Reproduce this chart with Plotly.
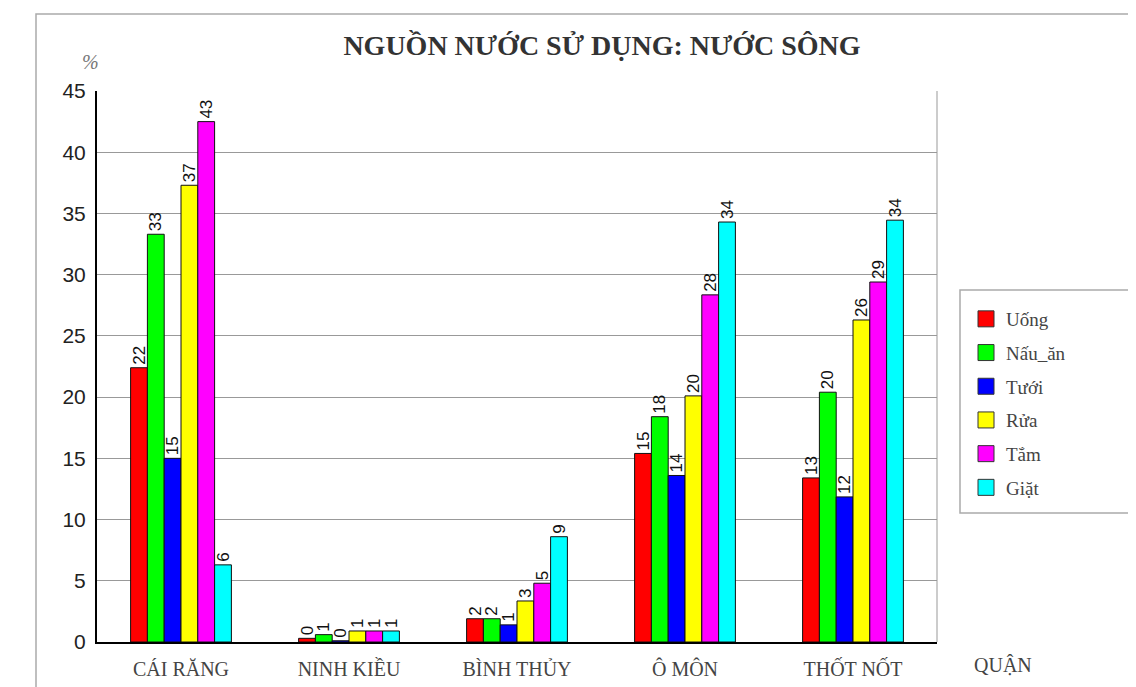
import plotly.graph_objects as go

categories = ["CÁI RĂNG", "NINH KIỀU", "BÌNH THỦY", "Ô MÔN", "THỐT NỐT"]
series_names = ["Uống", "Nấu_ăn", "Tưới", "Rửa", "Tắm", "Giặt"]
uong = [22.4, 0.3, 1.9, 15.4, 13.4]
nau_an = [33.3, 0.6, 1.9, 18.4, 20.4]
tuoi = [15.0, 0.1, 1.4, 13.6, 11.85]
rua = [37.3, 0.9, 3.35, 20.1, 26.3]
tam = [42.5, 0.9, 4.8, 28.35, 29.4]
giat = [6.3, 0.9, 8.6, 34.3, 34.45]
series_values = [uong, nau_an, tuoi, rua, tam, giat]
colors = ["#FF0000", "#00FF00", "#0000FF", "#FFFF00", "#FF00FF", "#00FFFF"]
y_ticks = [0, 5, 10, 15, 20, 25, 30, 35, 40, 45]

OFF = 8  # page offset of the figure inside the browser window
W, H = 1136, 687
# target plot area in screen pixels: x 97..937, y 91..642
L = 97 - OFF
T = 91 - OFF
R = W + OFF - 937
B = H + OFF - 642
pw, ph = 937 - 97, 642 - 91

SERIF = "Liberation Serif"

def px_x(p):
    return (p - 97) / pw

def px_y(p):
    return (642 - p) / ph

fig = go.Figure()
for i, (name, vals, col) in enumerate(zip(series_names, series_values, colors)):
    fig.add_trace(go.Bar(
        x=categories, y=vals, name=name, showlegend=False,
        marker=dict(color=col, line=dict(color="#111111", width=1)),
        texttemplate="%{y:.0f}", textposition="outside", textangle=-90,
        constraintext="none", cliponaxis=False,
        textfont=dict(family="Liberation Sans, Arial, sans-serif", size=17, color="#111111"),
    ))
    fig.add_trace(go.Scatter(
        x=[None], y=[None], mode="markers", name=name, legendgroup=name,
        marker=dict(symbol="square", size=16, color=col, line=dict(color="#333333", width=1)),
    ))

fig.update_layout(
    width=W, height=H,
    margin=dict(l=L, r=R, t=T, b=B),
    paper_bgcolor="white", plot_bgcolor="white",
    barmode="group", bargap=0.4, bargroupgap=0,
    title=dict(text="<b>NGUỒN NƯỚC SỬ DỤNG: NƯỚC SÔNG</b>",
               x=(602 - OFF) / W, xanchor="center", y=1 - (45 - OFF) / H, yanchor="middle",
               font=dict(family=SERIF, size=28, color="#333333")),
    legend=dict(x=px_x(966), y=px_y(300), xanchor="left", yanchor="top",
                borderwidth=0, bgcolor="rgba(0,0,0,0)",
                traceorder="grouped", tracegroupgap=6,
                font=dict(family=SERIF, size=19, color="#444444")),
    xaxis=dict(showline=True, linecolor="#000000", linewidth=2, ticks="",
               tickfont=dict(family=SERIF, size=20, color="#444444"),
               ticklabelstandoff=8, showgrid=False),
    yaxis=dict(range=[0, 45], tickvals=y_ticks, showline=True, linecolor="#000000", linewidth=2,
               showgrid=True, gridcolor="#999999", gridwidth=1, ticks="", zeroline=False,
               tickfont=dict(family="Liberation Sans, Arial, sans-serif", size=21, color="#222222"),
               ticklabelstandoff=5),
    shapes=[
        dict(type="rect", xref="paper", yref="paper", x0=px_x(36), y0=-1, x1=2, y1=px_y(14),
             line=dict(color="#aaaaaa", width=1.5), fillcolor="rgba(0,0,0,0)", layer="below"),
        dict(type="line", xref="paper", yref="paper", x0=1, y0=0, x1=1, y1=1,
             line=dict(color="#999999", width=1)),
        dict(type="rect", xref="paper", yref="paper", x0=px_x(960), y0=px_y(513), x1=px_x(1160), y1=px_y(290),
             line=dict(color="#aaaaaa", width=1.5), fillcolor="rgba(0,0,0,0)", layer="below"),
    ],
    annotations=[
        dict(text="<i>%</i>", xref="paper", yref="paper", x=px_x(90), y=px_y(62),
             showarrow=False, xanchor="center", yanchor="middle",
             font=dict(family=SERIF, size=20, color="#777777")),
        dict(text="QUẬN", xref="paper", yref="paper", x=px_x(1003), y=px_y(665),
             showarrow=False, xanchor="center", yanchor="middle",
             font=dict(family=SERIF, size=20, color="#444444")),
    ],
)

fig.write_html("out.html")
